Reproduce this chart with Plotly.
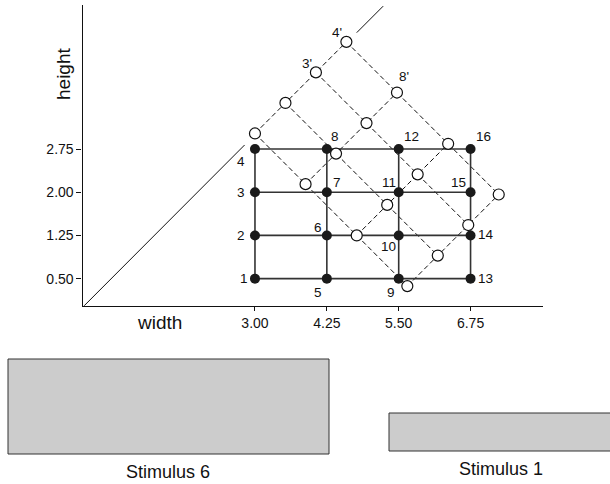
import plotly.graph_objects as go

W, H = 610, 484

# ---- data ----
widths = [3.00, 4.25, 5.50, 6.75]
heights = [0.50, 1.25, 2.00, 2.75]
x_tick_labels = ["3.00", "4.25", "5.50", "6.75"]
y_tick_labels = ["0.50", "1.25", "2.00", "2.75"]

# rotated (open) stimuli, rows = width index i, columns = height index j
open_x = [
    [3.00, 3.53, 4.06, 4.59],
    [3.88, 4.41, 4.94, 5.47],
    [4.77, 5.30, 5.83, 6.36],
    [5.65, 6.18, 6.71, 7.24],
]
open_y = [
    [3.02, 3.55, 4.08, 4.61],
    [2.14, 2.67, 3.20, 3.73],
    [1.25, 1.78, 2.31, 2.84],
    [0.37, 0.90, 1.43, 1.96],
]
prime_labels = {(0, 2): "3'", (0, 3): "4'", (1, 3): "8'"}

diag_x = [0.0, 2.82, None, 4.77, 5.23]
diag_y = [0.0, 2.82, None, 4.77, 5.23]

# label offsets (px) for numbered stimuli 1..16 (column-major: width then height)
label_offsets = [
    (-11, 0), (-14, 0), (-14, 0), (-14, -12),
    (-9, -14), (-9, 8), (10, 10), (8, 13),
    (-8, -14), (-10, -11), (-10, 10), (13, 13),
    (15, 0), (15, 1), (-12, 10), (13, 13),
]
prime_offsets = {(0, 2): (-9, 9), (0, 3): (-9, 9), (1, 3): (7, 16)}

FONT = "Liberation Sans, Arial, Helvetica, sans-serif"

fig = go.Figure()

# diagonal
fig.add_trace(go.Scatter(x=diag_x, y=diag_y, mode="lines",
                         line=dict(color="#111", width=1), hoverinfo="skip"))

# dashed rotated grid
for i in range(4):
    fig.add_trace(go.Scatter(x=open_x[i], y=open_y[i], mode="lines",
                             line=dict(color="#111", width=1, dash="5px,3px")))
for j in range(4):
    fig.add_trace(go.Scatter(x=[open_x[i][j] for i in range(4)],
                             y=[open_y[i][j] for i in range(4)], mode="lines",
                             line=dict(color="#111", width=1, dash="5px,3px")))

# solid grid
for h in heights:
    fig.add_trace(go.Scatter(x=[widths[0], widths[-1]], y=[h, h], mode="lines",
                             line=dict(color="#333", width=1.6)))
for w in widths:
    fig.add_trace(go.Scatter(x=[w, w], y=[heights[0], heights[-1]], mode="lines",
                             line=dict(color="#333", width=1.6)))

# black points
bx, by = [], []
for w in widths:
    for h in heights:
        bx.append(w)
        by.append(h)
fig.add_trace(go.Scatter(x=bx, y=by, mode="markers",
                         marker=dict(color="#1a1a1a", size=10, line=dict(width=0))))

# open points
ox = [v for row in open_x for v in row]
oy = [v for row in open_y for v in row]
fig.add_trace(go.Scatter(x=ox, y=oy, mode="markers",
                         marker=dict(color="white", size=11,
                                     line=dict(color="#111", width=1.2))))

annotations = []
font_lbl = dict(family=FONT, size=13.5, color="#111")
for k, (x, y) in enumerate(zip(bx, by)):
    dx, dy = label_offsets[k]
    annotations.append(dict(x=x, y=y, xref="x", yref="y", text=str(k + 1),
                            xanchor="center", yanchor="middle",
                            showarrow=False, xshift=dx, yshift=dy, font=font_lbl))
for (i, j), t in prime_labels.items():
    dx, dy = prime_offsets[(i, j)]
    annotations.append(dict(x=open_x[i][j], y=open_y[i][j], xref="x", yref="y",
                            xanchor="center", yanchor="middle",
                            text=t, showarrow=False, xshift=dx, yshift=dy, font=font_lbl))

font_title = dict(family=FONT, size=19, color="#111")
annotations.append(dict(x=159.5 / W, y=1 - 322 / H, xref="paper", yref="paper",
                        xanchor="center", yanchor="middle",
                        text="width", showarrow=False, font=font_title))
annotations.append(dict(x=63 / W, y=1 - 74 / H, xref="paper", yref="paper",
                        xanchor="center", yanchor="middle",
                        text="height", showarrow=False, textangle=-90, font=font_title))

font_stim = dict(family=FONT, size=18, color="#111")
annotations.append(dict(x=168 / W, y=1 - 472 / H, xref="paper", yref="paper",
                        xanchor="center", yanchor="middle",
                        text="Stimulus 6", showarrow=False, font=font_stim))
annotations.append(dict(x=501 / W, y=1 - 469 / H, xref="paper", yref="paper",
                        xanchor="center", yanchor="middle",
                        text="Stimulus 1", showarrow=False, font=font_stim))

shapes = [
    dict(type="rect", xref="paper", yref="paper",
         x0=8 / W, x1=329 / W, y0=1 - 454 / H, y1=1 - 359 / H,
         fillcolor="#cccccc", line=dict(color="#333", width=1)),
    dict(type="rect", xref="paper", yref="paper",
         x0=389 / W, x1=615 / W, y0=1 - 451 / H, y1=1 - 413 / H,
         fillcolor="#cccccc", line=dict(color="#333", width=1)),
]

fig.update_layout(
    width=W, height=H,
    margin=dict(l=0, r=0, t=0, b=0),
    paper_bgcolor="white", plot_bgcolor="white",
    showlegend=False,
    annotations=annotations,
    shapes=shapes,
    xaxis=dict(domain=[82.5 / W, 543 / W], range=[0, 8.01],
               showgrid=False, zeroline=False, showline=True,
               linecolor="#111", linewidth=1.2,
               tickmode="array", tickvals=widths, ticktext=x_tick_labels,
               ticks="outside", ticklen=4, tickcolor="#111",
               tickfont=dict(family=FONT, size=14, color="#111")),
    yaxis=dict(domain=[1 - 305.7 / H, 1 - 5 / H], range=[0.03, 5.25],
               showgrid=False, zeroline=False, showline=True,
               linecolor="#111", linewidth=1.2,
               tickmode="array", tickvals=heights, ticktext=y_tick_labels,
               ticks="outside", ticklen=5, tickcolor="#111",
               tickfont=dict(family=FONT, size=14, color="#111")),
)

fig.write_html("out.html", config={"displayModeBar": False},
               post_script="document.body.style.margin='0';")
